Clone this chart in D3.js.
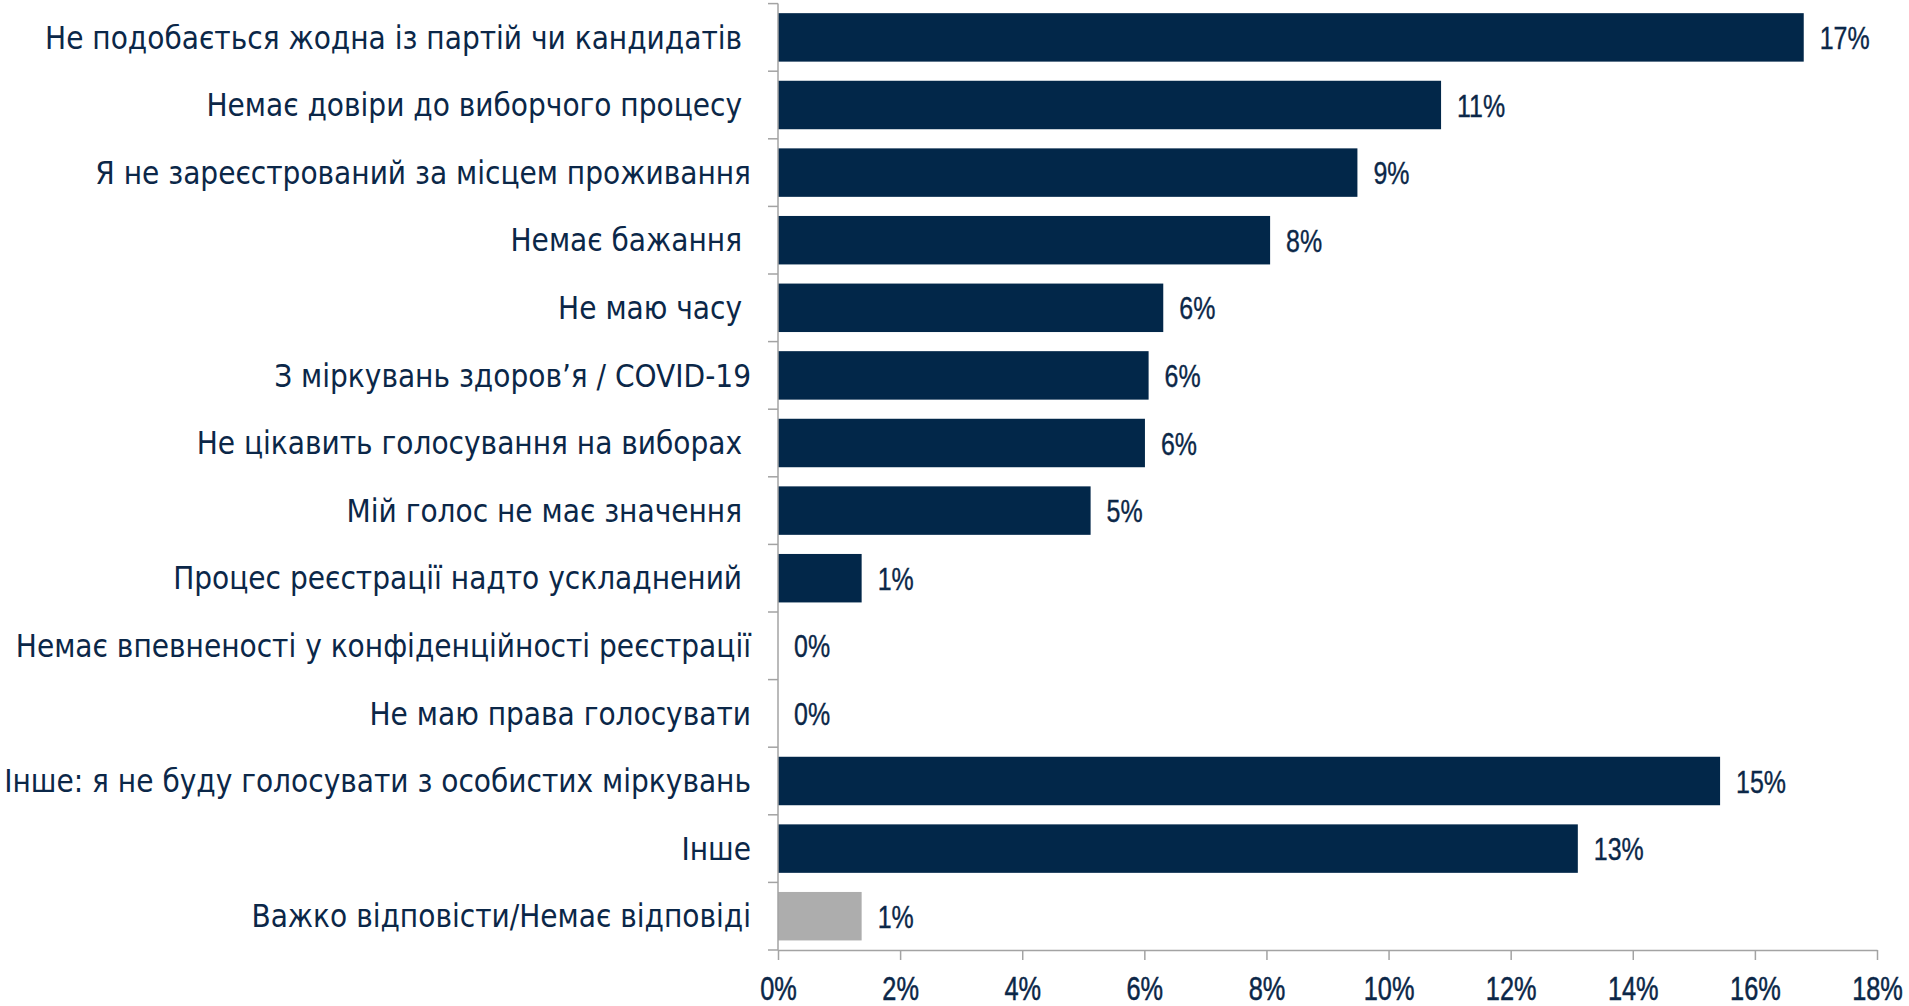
<!DOCTYPE html>
<html lang="uk">
<head>
<meta charset="UTF-8">
<title>Причини</title>
<script src="https://d3js.org/d3.v7.min.js"></script>
<style>
  body { margin: 0; background: #fff; }
  .cat { font-family: "DejaVu Sans Condensed", "DejaVu Sans", sans-serif; font-stretch: condensed; font-size: 31.2px; fill: #0b2748; white-space: pre; }
  .val { font-family: "Liberation Sans", Arial, sans-serif; font-size: 32px; fill: #0b2748; stroke: #0b2748; stroke-width: 0.4px; }
  .xaxis text { font-family: "Liberation Sans", Arial, sans-serif; font-size: 32.5px; fill: #0b2748; stroke: #0b2748; stroke-width: 0.5px; }
</style>
</head>
<body>
<div class="chart"></div>
<script>
  const categories = [
    "Не подобається жодна із партій чи кандидатів ",
    "Немає довіри до виборчого процесу ",
    "Я не зареєстрований за місцем проживання",
    "Немає бажання ",
    "Не маю часу ",
    "З міркувань здоров’я / COVID-19",
    "Не цікавить голосування на виборах ",
    "Мій голос не має значення ",
    "Процес реєстрації надто ускладнений ",
    "Немає впевненості у конфіденційності реєстрації",
    "Не маю права голосувати",
    "Інше: я не буду голосувати з особистих міркувань",
    "Інше",
    "Важко відповісти/Немає відповіді"
  ];
  const values = [16.8, 10.86, 9.49, 8.06, 6.31, 6.07, 6.01, 5.12, 1.37, 0, 0, 15.43, 13.1, 1.37];
  const valueLabels = ["17%", "11%", "9%", "8%", "6%", "6%", "6%", "5%", "1%", "0%", "0%", "15%", "13%", "1%"];
  const barColors = ["#022749", "#022749", "#022749", "#022749", "#022749", "#022749", "#022749",
                     "#022749", "#022749", "#022749", "#022749", "#022749", "#022749", "#adadad"];
  const xTicks = [0, 2, 4, 6, 8, 10, 12, 14, 16, 18];

  const W = 1909, H = 1006;
  const plot = {left: 778, right: 1877, top: 3.6, bottom: 950};
  const narrow = 0.78; // squeeze for the narrow number font

  const svg = d3.select('.chart').append('svg')
    .attr('width', W).attr('height', H);

  const x = d3.scaleLinear().domain([0, 18]).range([plot.left, plot.right]);
  const y = d3.scaleBand().domain(categories).range([plot.top, plot.bottom])
    .paddingInner(0.283).paddingOuter(0.1415);

  const data = categories.map((c, i) => ({cat: c, v: values[i], label: valueLabels[i], color: barColors[i]}));

  // bars
  svg.append('g').selectAll('rect').data(data).join('rect')
    .attr('x', x(0))
    .attr('y', d => y(d.cat))
    .attr('width', d => x(d.v) - x(0))
    .attr('height', y.bandwidth())
    .attr('fill', d => d.color);

  // value labels
  svg.append('g').selectAll('text').data(data).join('text')
    .attr('class', 'val')
    .attr('transform', d => `translate(${x(d.v) + 16} ${y(d.cat) + y.bandwidth() / 2}) scale(${narrow} 1)`)
    .attr('dy', '0.36em')
    .text(d => d.label);

  // category labels
  svg.append('g').selectAll('text').data(data).join('text')
    .attr('class', 'cat')
    .attr('x', plot.left - 27)
    .attr('y', d => y(d.cat) + y.bandwidth() / 2)
    .attr('dy', '0.36em')
    .attr('text-anchor', 'end')
    .attr('xml:space', 'preserve')
    .text(d => d.cat);

  // y axis line with ticks on band edges
  const gap = (y.step() - y.bandwidth()) / 2;
  const edges = categories.map(c => y(c) - gap).concat([y(categories[categories.length - 1]) + y.bandwidth() + gap]);
  const ya = svg.append('g').attr('stroke', '#a3a3a3').attr('stroke-width', 1.5);
  ya.append('line').attr('x1', plot.left).attr('x2', plot.left).attr('y1', edges[0]).attr('y2', edges[edges.length - 1]);
  ya.selectAll('.tk').data(edges).join('line').attr('class', 'tk')
    .attr('x1', plot.left - 10).attr('x2', plot.left).attr('y1', d => d).attr('y2', d => d);

  // x axis
  const xAxis = d3.axisBottom(x).tickValues(xTicks).tickFormat(d => d + '%')
    .tickSize(10).tickSizeOuter(0).tickPadding(17);
  const xg = svg.append('g').attr('class', 'xaxis')
    .attr('transform', `translate(0 ${edges[edges.length - 1]})`).call(xAxis);
  xg.select('.domain').attr('stroke', '#a3a3a3').attr('stroke-width', 1.5);
  xg.selectAll('.tick line').attr('stroke', '#a3a3a3').attr('stroke-width', 1.5);
  xg.selectAll('.tick text').attr('transform', `scale(${narrow} 1)`);
</script>
</body>
</html>
